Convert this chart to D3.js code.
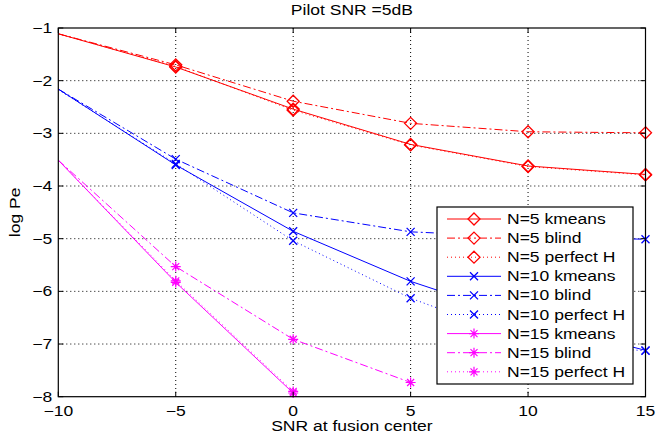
<!DOCTYPE html>
<html>
<head>
<meta charset="utf-8">
<script src="https://cdn.jsdelivr.net/npm/d3@7"></script>
<style>
  body { margin: 0; background: #fff; }
  text { font-family: "Liberation Sans", Arial, Helvetica, sans-serif; fill: #000; }
</style>
</head>
<body>
<svg id="chart" width="657" height="435"></svg>
<script>
// x values (SNR at fusion center, dB); -10 is the left axis edge where the curves enter
const snr = [-10, -5, 0, 5, 10, 15];

// log Pe for each curve (null = below the plotted range)
const n5Kmeans   = [-1.11, -1.74, -2.54, -3.21, -3.62, -3.78];
const n5Blind    = [-1.11, -1.70, -2.39, -2.81, -2.97, -2.99];
const n5Perfect  = [-1.11, -1.73, -2.56, -3.22, -3.63, -3.79];
const n10Kmeans  = [-2.16, -3.60, -4.86, -5.81, -6.55, -7.12];
const n10Blind   = [-2.16, -3.49, -4.51, -4.87, -4.97, -5.01];
const n10Perfect = [-2.17, -3.58, -5.04, -6.13, -6.95, -7.13];
const n15Kmeans  = [-3.51, -5.83, -7.93, null, null, null];
const n15Blind   = [-3.51, -5.53, -6.91, -7.73, null, null];
const n15Perfect = [-3.51, -5.80, -7.90, null, null, null];

const xTicks = [-10, -5, 0, 5, 10, 15];
const yTicks = [-8, -7, -6, -5, -4, -3, -2, -1];

const seriesNames = ["N=5 kmeans", "N=5 blind", "N=5 perfect H",
                     "N=10 kmeans", "N=10 blind", "N=10 perfect H",
                     "N=15 kmeans", "N=15 blind", "N=15 perfect H"];
const seriesValues = [n5Kmeans, n5Blind, n5Perfect, n10Kmeans, n10Blind, n10Perfect,
                      n15Kmeans, n15Blind, n15Perfect];

const colors = { 5: "#ff0000", 10: "#0000ff", 15: "#ff00ff" };
const markers = { 5: "diamond", 10: "x", 15: "star" };
const dashes = ["none", "8,3,2,3", "1,3"];

const series = seriesNames.map((name, i) => {
  const n = [5, 10, 15][Math.floor(i / 3)];
  return {
    name,
    color: colors[n],
    marker: markers[n],
    dash: dashes[i % 3],
    values: snr.map((s, j) => ({ x: s, y: seriesValues[i][j] }))
  };
});

const svg = d3.select("#chart");
const margin = { top: 28, right: 11.5, bottom: 38.3, left: 58.3 };
const width = 657, height = 435;
const innerW = width - margin.left - margin.right;
const innerH = height - margin.top - margin.bottom;

const x = d3.scaleLinear().domain([-10, 15]).range([0, innerW]);
const y = d3.scaleLinear().domain([-8, -1]).range([innerH, 0]);

const g = svg.append("g").attr("transform", `translate(${margin.left},${margin.top})`);

svg.append("defs").append("clipPath").attr("id", "plotclip")
  .append("rect").attr("width", innerW).attr("height", innerH);

// grid (dotted)
g.append("g").selectAll("line").data(xTicks.slice(1, -1)).join("line")
  .attr("x1", d => x(d)).attr("x2", d => x(d))
  .attr("y1", 0).attr("y2", innerH)
  .attr("stroke", "#000").attr("stroke-width", 1).attr("stroke-dasharray", "1,3");
g.append("g").selectAll("line").data(yTicks.slice(1, -1)).join("line")
  .attr("y1", d => y(d)).attr("y2", d => y(d))
  .attr("x1", 0).attr("x2", innerW)
  .attr("stroke", "#000").attr("stroke-width", 1).attr("stroke-dasharray", "1,3");

// lines
const line = d3.line()
  .defined(d => d.y !== null)
  .x(d => x(d.x))
  .y(d => y(d.y));

const plot = g.append("g");
plot.selectAll("path.series").data(series).join("path")
  .attr("class", "series")
  .attr("clip-path", "url(#plotclip)")
  .attr("fill", "none")
  .attr("stroke", d => d.color)
  .attr("stroke-width", 1)
  .attr("stroke-dasharray", d => d.dash)
  .attr("d", d => line(d.values));

function drawMarker(sel, type, color) {
  if (type === "diamond") {
    const r = 6;
    sel.append("path").attr("d", `M0,${-r}L${r},0L0,${r}L${-r},0Z`)
      .attr("fill", "none").attr("stroke", color).attr("stroke-width", 1.3);
  } else if (type === "x") {
    const r = 4;
    sel.append("path").attr("d", `M${-r},${-r}L${r},${r}M${-r},${r}L${r},${-r}`)
      .attr("stroke", color).attr("stroke-width", 1.3);
  } else {
    const r = 5, d = r * 0.7;
    sel.append("path")
      .attr("d", `M${-r},0L${r},0M0,${-r}L0,${r}M${-d},${-d}L${d},${d}M${-d},${d}L${d},${-d}`)
      .attr("stroke", color).attr("stroke-width", 1.2);
  }
}

// no markers on the left axis edge: the curves only pass through it there
series.forEach(s => {
  s.values.filter(v => v.y !== null && v.x > x.domain()[0]).forEach(v => {
    const m = plot.append("g").attr("transform", `translate(${x(v.x)},${y(v.y)})`);
    drawMarker(m, s.marker, s.color);
  });
});

// box + inward ticks
g.append("rect").attr("width", innerW).attr("height", innerH)
  .attr("fill", "none").attr("stroke", "#000").attr("stroke-width", 1.2);
const tickLen = 5;
const tk = g.append("g").attr("stroke", "#000").attr("stroke-width", 1);
xTicks.forEach(t => {
  tk.append("line").attr("x1", x(t)).attr("x2", x(t)).attr("y1", innerH).attr("y2", innerH - tickLen);
  tk.append("line").attr("x1", x(t)).attr("x2", x(t)).attr("y1", 0).attr("y2", tickLen);
});
yTicks.forEach(t => {
  tk.append("line").attr("y1", y(t)).attr("y2", y(t)).attr("x1", 0).attr("x2", tickLen);
  tk.append("line").attr("y1", y(t)).attr("y2", y(t)).attr("x1", innerW).attr("x2", innerW - tickLen);
});

const fmt = v => (v < 0 ? "\u2212" + Math.abs(v) : String(v));

g.append("g").selectAll("text").data(xTicks).join("text")
  .attr("class", "stretch")
  .attr("x", d => x(d)).attr("y", innerH + 19)
  .attr("text-anchor", "middle").style("font-size", "14px")
  .text(fmt);

g.append("g").selectAll("text").data(yTicks).join("text")
  .attr("class", "stretch")
  .attr("x", -6).attr("y", d => y(d) + 5)
  .attr("text-anchor", "end").style("font-size", "14px")
  .text(fmt);

// title and axis labels
svg.append("text").attr("class", "stretch")
  .attr("x", margin.left + innerW / 2).attr("y", 15)
  .attr("text-anchor", "middle").style("font-size", "14px")
  .text("Pilot SNR =5dB");

svg.append("text").attr("class", "stretch")
  .attr("x", margin.left + innerW / 2).attr("y", 431)
  .attr("text-anchor", "middle").style("font-size", "14px")
  .text("SNR at fusion center");

svg.append("text").attr("class", "stretch")
  .attr("transform", `translate(20,${margin.top + innerH / 2}) rotate(-90)`)
  .attr("text-anchor", "middle").style("font-size", "14px")
  .text("log Pe");

// legend
const legend = svg.append("g").attr("transform", "translate(437,207)");
const rowH = 19.1;
legend.append("rect").attr("width", 196).attr("height", 177)
  .attr("fill", "#fff").attr("stroke", "#000").attr("stroke-width", 1.2);
series.forEach((s, i) => {
  const row = legend.append("g").attr("transform", `translate(0,${12 + i * rowH})`);
  row.append("line").attr("x1", 10).attr("x2", 64).attr("y1", 0).attr("y2", 0)
    .attr("stroke", s.color).attr("stroke-width", 1).attr("stroke-dasharray", s.dash);
  drawMarker(row.append("g").attr("transform", "translate(37,0)"), s.marker, s.color);
  row.append("text").attr("class", "stretch")
    .attr("x", 70).attr("y", 5).style("font-size", "14px")
    .text(s.name);
});

// the source figure's lettering is wider than Liberation Sans
svg.selectAll("text.stretch").each(function() {
  const len = this.getComputedTextLength();
  d3.select(this).attr("textLength", len * 1.25).attr("lengthAdjust", "spacingAndGlyphs");
});
</script>
</body>
</html>
